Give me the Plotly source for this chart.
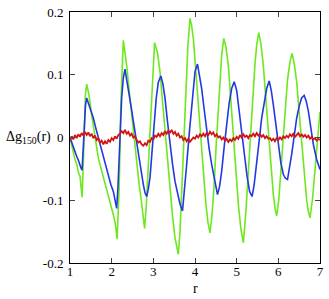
import numpy as np
import plotly.graph_objects as go

green_r = [1.00,1.04,1.08,1.12,1.16,1.20,1.24,1.27,1.29,1.31,1.33,1.37,1.40,1.45,1.52,1.60,1.68,1.74,1.80,1.86,
           1.92,1.98,2.04,2.08,2.11,2.13,2.15,2.18,2.22,2.25,2.28,2.32,2.36,2.42,2.48,2.54,2.60,2.66,2.71,2.76,
           2.79,2.83,2.87,2.91,2.95,2.99,3.03,3.10,3.16,3.22,3.28,3.34,3.40,3.46,3.52,3.57,3.60,3.64,3.68,3.72,
           3.76,3.80,3.83,3.88,3.92,3.96,4.02,4.08,4.14,4.20,4.26,4.31,4.36,4.41,4.46,4.51,4.56,4.60,4.64,4.69,
           4.74,4.80,4.86,4.92,4.98,5.04,5.10,5.16,5.22,5.28,5.34,5.40,5.44,5.48,5.53,5.58,5.64,5.70,5.76,5.82,
           5.88,5.92,5.96,6.01,6.06,6.11,6.17,6.22,6.28,6.33,6.38,6.44,6.50,6.56,6.62,6.68,6.72,6.76,6.82,6.88,
           6.94,7.00]
green_v = [0.000,-0.012,-0.020,-0.035,-0.042,-0.055,-0.062,-0.078,-0.095,-0.060,0.000,0.068,0.085,0.070,0.036,0.002,-0.033,-0.048,-0.064,-0.078,
           -0.094,-0.108,-0.123,-0.135,-0.150,-0.162,-0.130,-0.080,0.052,0.120,0.155,0.135,0.115,0.075,0.036,-0.004,-0.043,-0.075,-0.100,-0.132,
           -0.145,-0.110,-0.054,0.005,0.062,0.115,0.151,0.135,0.105,0.058,0.010,-0.040,-0.086,-0.125,-0.160,-0.178,-0.186,-0.150,-0.086,-0.015,
           0.052,0.110,0.147,0.190,0.178,0.158,0.105,0.047,-0.010,-0.064,-0.105,-0.135,-0.152,-0.122,-0.075,-0.010,0.052,0.100,0.131,0.158,
           0.145,0.115,0.060,0.000,-0.055,-0.106,-0.145,-0.168,-0.120,-0.054,0.015,0.078,0.118,0.147,0.167,0.150,0.115,0.062,0.010,-0.042,
           -0.091,-0.112,-0.125,-0.100,-0.054,0.000,0.052,0.092,0.121,0.134,0.118,0.089,0.040,-0.011,-0.058,-0.100,-0.118,-0.128,-0.098,-0.054,
           -0.005,0.041]

blue_r = [1.00,1.04,1.08,1.12,1.16,1.20,1.23,1.26,1.29,1.31,1.33,1.37,1.40,1.44,1.48,1.52,1.56,1.62,1.68,1.74,
          1.80,1.86,1.92,1.98,2.04,2.08,2.12,2.15,2.18,2.21,2.24,2.28,2.32,2.36,2.40,2.46,2.52,2.58,2.64,2.70,
          2.76,2.80,2.84,2.88,2.92,2.96,3.00,3.03,3.07,3.12,3.18,3.23,3.28,3.34,3.40,3.46,3.52,3.58,3.64,3.70,
          3.75,3.80,3.86,3.92,3.96,4.00,4.06,4.11,4.16,4.22,4.28,4.34,4.40,4.47,4.54,4.59,4.64,4.70,4.76,4.82,
          4.88,4.94,5.00,5.07,5.13,5.19,5.25,5.31,5.37,5.42,5.48,5.54,5.60,5.66,5.72,5.78,5.83,5.88,5.94,6.00,
          6.06,6.12,6.17,6.22,6.27,6.32,6.38,6.44,6.50,6.56,6.62,6.67,6.72,6.78,6.84,6.92,7.00]
blue_v = [0.000,-0.008,-0.015,-0.022,-0.030,-0.036,-0.043,-0.048,-0.052,-0.030,0.010,0.050,0.063,0.055,0.047,0.040,0.031,0.015,0.000,-0.017,
          -0.033,-0.048,-0.064,-0.075,-0.086,-0.098,-0.113,-0.080,-0.027,0.030,0.063,0.095,0.109,0.092,0.078,0.052,0.026,0.000,-0.027,-0.052,
          -0.075,-0.088,-0.094,-0.082,-0.064,-0.030,0.005,0.031,0.063,0.088,0.098,0.085,0.063,0.025,-0.011,-0.042,-0.070,-0.090,-0.106,-0.117,
          -0.085,-0.043,0.005,0.052,0.082,0.105,0.117,0.100,0.078,0.045,0.010,-0.018,-0.043,-0.070,-0.091,-0.078,-0.054,-0.015,0.026,0.055,
          0.078,0.089,0.075,0.037,0.000,-0.033,-0.062,-0.086,-0.094,-0.075,-0.043,-0.005,0.031,0.058,0.078,0.090,0.075,0.052,0.018,-0.016,
          -0.040,-0.059,-0.065,-0.067,-0.050,-0.027,0.002,0.031,0.050,0.063,0.067,0.058,0.042,0.015,-0.011,-0.035,-0.051]

red_r = np.round(np.arange(1.0, 7.0001, 0.04), 2)
red_v = [-0.004,0.002,-0.003,0.004,-0.001,0.005,0.001,0.007,0.003,0.009,
         0.004,0.008,0.002,0.006,-0.001,0.003,-0.004,-0.001,-0.008,-0.005,
         -0.011,-0.006,-0.010,-0.004,-0.007,-0.001,-0.004,0.002,-0.002,0.004,
         0.006,0.010,0.007,0.012,0.006,0.009,0.003,0.006,0.000,0.002,
         -0.004,-0.008,-0.006,-0.011,-0.013,-0.009,-0.012,-0.005,-0.007,-0.001,
         -0.003,0.003,0.001,0.006,0.002,0.007,0.004,0.010,0.006,0.011,
         0.008,0.012,0.006,0.009,0.003,0.006,0.000,0.002,-0.004,-0.001,
         -0.006,-0.002,-0.007,-0.003,0.000,-0.002,0.003,0.000,0.005,0.002,
         0.006,0.002,0.007,0.004,0.009,0.005,0.008,0.002,0.005,0.000,
         0.002,-0.003,0.000,-0.005,-0.002,-0.007,-0.003,-0.006,-0.001,-0.004,
         0.001,-0.002,0.004,0.000,0.005,0.001,0.003,-0.001,0.004,0.002,
         0.006,0.002,0.007,0.003,0.005,0.001,0.004,-0.001,0.002,-0.002,
         -0.001,-0.005,-0.002,-0.006,-0.001,-0.004,0.000,-0.003,0.002,-0.001,
         0.003,0.000,0.005,0.002,0.006,0.001,0.004,0.007,0.002,0.005,
         0.001,0.004,0.000,0.003,-0.002,0.001,-0.003,-0.001,-0.005,-0.002,
         -0.004]

x_ticks = [1, 2, 3, 4, 5, 6, 7]
y_ticks = [-0.2, -0.1, 0, 0.1, 0.2]
y_ticktext = ["-0.2", "-0.1", "0", "0.1", "0.2"]

FONT = "Liberation Serif"

fig = go.Figure()
fig.add_trace(go.Scatter(x=green_r, y=green_v, mode="lines",
                         line=dict(color="#6ee81e", width=1.6), showlegend=False))
fig.add_trace(go.Scatter(x=blue_r, y=blue_v, mode="lines",
                         line=dict(color="#2438e0", width=1.6), showlegend=False))
fig.add_trace(go.Scatter(x=red_r, y=red_v, mode="lines",
                         line=dict(color="#d01515", width=1.8), showlegend=False))

fig.update_layout(
    width=329, height=299,
    margin=dict(l=70, r=9, t=12, b=36, autoexpand=False),
    paper_bgcolor="white", plot_bgcolor="white",
    font=dict(family=FONT, size=13, color="black"),
    xaxis=dict(range=[1, 7], tickvals=x_ticks, ticks="inside", ticklen=5,
               showline=True, linecolor="black", linewidth=1, mirror="ticks",
               showgrid=False, zeroline=False, automargin=False, ticklabelstandoff=-4,
               tickfont=dict(family=FONT, size=13)),
    yaxis=dict(range=[-0.2, 0.2], tickvals=y_ticks, ticktext=y_ticktext,
               ticks="inside", ticklen=5,
               showline=True, linecolor="black", linewidth=1, mirror="ticks",
               showgrid=False, zeroline=False, automargin=False, ticklabelstandoff=3,
               tickfont=dict(family=FONT, size=13)),
    annotations=[
        dict(text="r", xref="x", yref="paper", x=4, y=-0.10, showarrow=False,
             xanchor="center", yanchor="middle", font=dict(family=FONT, size=14)),
        dict(text="\u0394g<sub>150</sub>(r)", xref="paper", yref="y", x=-0.264, y=0,
             showarrow=False, xanchor="left", yanchor="middle", font=dict(family=FONT, size=14)),
    ],
)

fig.write_html("out.html", config={"displayModeBar": False},
               post_script="document.body.style.margin='0';document.body.style.padding='0';")
